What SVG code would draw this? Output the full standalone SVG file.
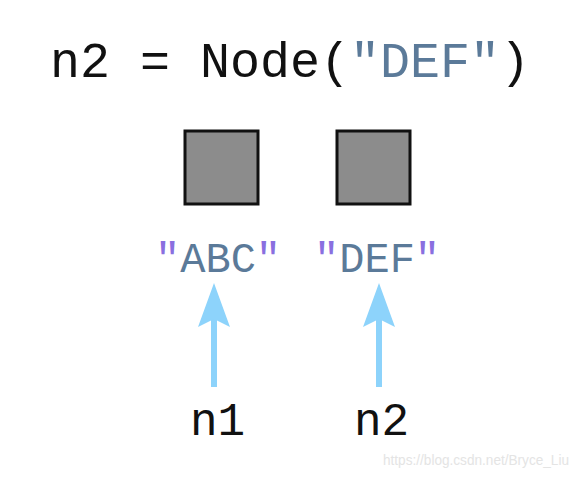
<svg xmlns="http://www.w3.org/2000/svg" width="576" height="478" viewBox="0 0 576 478">
<style>
.mono{font-family:"Liberation Mono","Courier New",monospace;}
.blk{fill:#111;}
.str{fill:#5b7a99;}
.q{fill:#8a6fe0;}
.box{fill:#8c8c8c;stroke:#111;stroke-width:3;}
.arr{stroke:#8dd3fb;stroke-width:6;fill:none;}
.wm{font-family:"Liberation Sans",Arial,sans-serif;font-size:14px;fill:#e4e4e4;}
</style>
<defs>
<marker id="ah" markerUnits="userSpaceOnUse" markerWidth="46" markerHeight="34" refX="10" refY="17" orient="auto" viewBox="0 0 46 34">
<path d="M46,17 L2,1 L10,17 L2,33 Z" fill="#8dd3fb"/>
</marker>
</defs>
<text class="mono blk" x="50" y="77" font-size="50">n2 = Node(<tspan class="str">"DEF"</tspan>)</text>
<g id="node-abc">
<rect class="box" x="185" y="131" width="73" height="73"/>
<text class="mono" x="155" y="272" font-size="42"><tspan class="q">"</tspan><tspan class="str">ABC</tspan><tspan class="q">"</tspan></text>
</g>
<g id="node-def">
<rect class="box" x="337" y="131" width="73" height="73"/>
<text class="mono" x="314" y="272" font-size="42"><tspan class="q">"</tspan><tspan class="str">DEF</tspan><tspan class="q">"</tspan></text>
</g>
<g id="node-n1">
<text class="mono blk" x="190" y="435" font-size="46">n1</text>
</g>
<g id="node-n2">
<text class="mono blk" x="354" y="435" font-size="46">n2</text>
</g>
<g id="connectors">
<line class="arr" x1="214" y1="387" x2="214" y2="319" marker-end="url(#ah)"/>
<line class="arr" x1="379" y1="387" x2="379" y2="319" marker-end="url(#ah)"/>
</g>
<text class="wm" x="383" y="465" textLength="186" lengthAdjust="spacingAndGlyphs">https://blog.csdn.net/Bryce_Liu</text>
</svg>
